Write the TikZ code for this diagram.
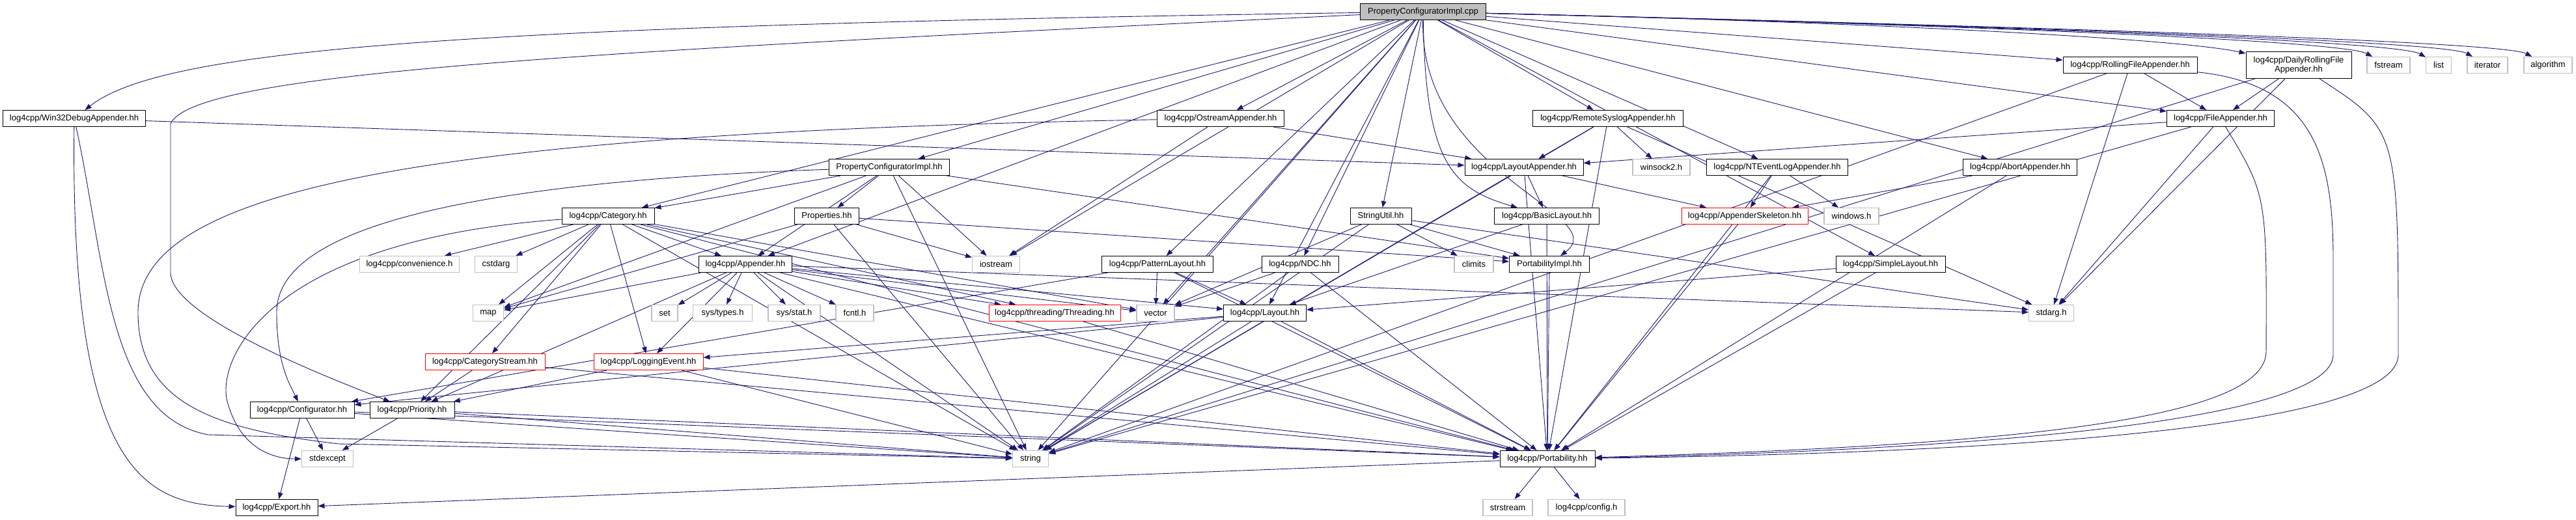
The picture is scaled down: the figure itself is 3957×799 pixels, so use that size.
\documentclass[tikz,border=0pt]{standalone}
\usepackage{fontspec}
\setmainfont{Liberation Sans}
\usetikzlibrary{arrows.meta,backgrounds}
\definecolor{edgeblue}{HTML}{191970}
\definecolor{sysgray}{HTML}{BFBFBF}
\definecolor{rootfill}{HTML}{BFBFBF}

\tikzset{
  box/.style={rectangle,draw,fill=white,inner sep=0pt,minimum height=25,line width=1pt,
    font=\fontsize{13}{14}\selectfont},
  hdr/.style={box,draw=black},
  sys/.style={box,draw=sysgray,line width=1.2pt},
  trunc/.style={box,draw=red},
  root/.style={box,draw=black,fill=rootfill},
  dep/.style={draw=edgeblue,line width=0.9pt,-{Triangle[length=10pt,width=7.5pt]}},
}

\begin{document}
\begin{tikzpicture}[x=1pt,y=1pt]
  \useasboundingbox (0,0) rectangle (3957,-799);

  % root file
  \node[root,minimum width=193] (cpp) at (2186,-18) {PropertyConfiguratorImpl.cpp};

  % first row of includes
  \node[hdr,minimum width=206] (rolling) at (3272,-100) {log4cpp/RollingFileAppender.hh};
  \node[hdr,minimum width=162,minimum height=41,align=center] (daily) at (3531,-100) {log4cpp/DailyRollingFile\\Appender.hh};
  \node[sys,minimum width=66] (fstream) at (3669,-100) {fstream};
  \node[sys,minimum width=39] (list) at (3746,-100) {list};
  \node[sys,minimum width=62] (iterator) at (3821,-100) {iterator};
  \node[sys,minimum width=74] (algorithm) at (3914,-100) {algorithm};

  % appenders
  \node[hdr,minimum width=219] (win32) at (114,-182) {log4cpp/Win32DebugAppender.hh};
  \node[hdr,minimum width=195] (ostream) at (1875,-182) {log4cpp/OstreamAppender.hh};
  \node[hdr,minimum width=231] (remote) at (2470,-182) {log4cpp/RemoteSyslogAppender.hh};
  \node[hdr,minimum width=165] (fileapp) at (3411,-182) {log4cpp/FileAppender.hh};

  \node[hdr,minimum width=185] (pcimplhh) at (1366,-257) {PropertyConfiguratorImpl.hh};
  \node[hdr,minimum width=182] (layoutapp) at (2341,-257) {log4cpp/LayoutAppender.hh};
  \node[sys,minimum width=88] (winsock) at (2552,-257) {winsock2.h};
  \node[hdr,minimum width=217] (ntevent) at (2730,-257) {log4cpp/NTEventLogAppender.hh};
  \node[hdr,minimum width=175] (abort) at (3103,-257) {log4cpp/AbortAppender.hh};

  \node[hdr,minimum width=142] (category) at (934,-332) {log4cpp/Category.hh};
  \node[hdr,minimum width=99] (properties) at (1270,-332) {Properties.hh};
  \node[hdr,minimum width=94] (stringutil) at (2121,-332) {StringUtil.hh};
  \node[hdr,minimum width=161] (basic) at (2376,-332) {log4cpp/BasicLayout.hh};
  \node[trunc,minimum width=194] (appskel) at (2680,-332) {log4cpp/AppenderSkeleton.hh};
  \node[sys,minimum width=84] (windows) at (2844,-332) {windows.h};

  \node[sys,minimum width=153] (convenience) at (629,-406) {log4cpp/convenience.h};
  \node[sys,minimum width=65] (cstdarg) at (762,-406) {cstdarg};
  \node[hdr,minimum width=143] (appender) at (1145,-406) {log4cpp/Appender.hh};
  \node[sys,minimum width=73] (iostream) at (1530,-406) {iostream};
  \node[hdr,minimum width=171] (pattern) at (1778,-406) {log4cpp/PatternLayout.hh};
  \node[hdr,minimum width=118] (ndc) at (1997,-406) {log4cpp/NDC.hh};
  \node[sys,minimum width=60] (climits) at (2264,-406) {climits};
  \node[hdr,minimum width=123] (portimpl) at (2380,-406) {PortabilityImpl.hh};
  \node[hdr,minimum width=168] (simple) at (2904,-406) {log4cpp/SimpleLayout.hh};

  \node[sys,minimum width=47] (map) at (750,-481) {map};
  \node[sys,minimum width=40] (set) at (1021,-481) {set};
  \node[sys,minimum width=91] (systypes) at (1110,-481) {sys/types.h};
  \node[sys,minimum width=80] (sysstat) at (1220,-481) {sys/stat.h};
  \node[sys,minimum width=58] (fcntl) at (1313,-481) {fcntl.h};
  \node[trunc,minimum width=202] (threading) at (1620,-481) {log4cpp/threading/Threading.hh};
  \node[sys,minimum width=58] (vector) at (1775,-481) {vector};
  \node[hdr,minimum width=127] (layout) at (1943,-481) {log4cpp/Layout.hh};
  \node[sys,minimum width=69] (stdarg) at (3151,-481) {stdarg.h};

  \node[trunc,minimum width=184] (catstream) at (745,-556) {log4cpp/CategoryStream.hh};
  \node[trunc,minimum width=168] (logevent) at (996,-556) {log4cpp/LoggingEvent.hh};

  \node[hdr,minimum width=160] (configurator) at (464,-630) {log4cpp/Configurator.hh};
  \node[hdr,minimum width=130] (priority) at (633,-630) {log4cpp/Priority.hh};

  \node[sys,minimum width=79] (stdexcept) at (503,-705) {stdexcept};
  \node[sys,minimum width=55] (string) at (1583,-705) {string};
  \node[hdr,minimum width=146] (portability) at (2377,-705) {log4cpp/Portability.hh};

  \node[hdr,minimum width=126] (export) at (425,-780) {log4cpp/Export.hh};
  \node[sys,minimum width=76] (strstream) at (2316,-780) {strstream};
  \node[sys,minimum width=118] (config) at (2437,-780) {log4cpp/config.h};

  \begin{pgfonlayer}{background}
  % straight dependencies
  \foreach \src/\dst in {cpp/ostream, cpp/pcimplhh, cpp/category, cpp/appender, cpp/iostream,
      cpp/string, cpp/vector, cpp/fileapp, cpp/rolling, cpp/abort, cpp/ntevent, cpp/remote,
      cpp/layout, cpp/simple, cpp/pattern, cpp/ndc, cpp/stringutil,
      win32/layoutapp, ostream/layoutapp, ostream/iostream,
      remote/layoutapp, remote/winsock, remote/string, remote/stdarg, remote/portability,
      layoutapp/basic, layoutapp/appskel, layoutapp/string, layoutapp/portability,
      basic/layout, basic/portability,
      ntevent/appskel, ntevent/windows, ntevent/portability,
      abort/appskel, abort/portability,
      fileapp/layoutapp, fileapp/string, fileapp/stdarg,
      rolling/fileapp, rolling/string, rolling/stdarg,
      daily/fileapp, daily/string, daily/stdarg,
      appskel/portability, simple/layout, simple/portability,
      pattern/layout, pattern/vector, pattern/configurator, pattern/portability,
      ndc/vector, ndc/string, ndc/portability,
      stringutil/portimpl, stringutil/climits, stringutil/vector, stringutil/string, stringutil/stdarg,
      portimpl/portability,
      pcimplhh/category, pcimplhh/properties, pcimplhh/appender, pcimplhh/iostream,
      pcimplhh/string, pcimplhh/map, pcimplhh/portimpl,
      properties/map, properties/iostream, properties/string, properties/portimpl,
      category/convenience, category/cstdarg, category/appender, category/map,
      category/catstream, category/logevent, category/priority, category/threading,
      category/vector, category/portability, category/string,
      appender/map, appender/set, appender/systypes, appender/sysstat, appender/fcntl,
      appender/threading, appender/vector, appender/layout, appender/stdarg, appender/string,
      appender/portability, appender/logevent, appender/priority,
      layout/configurator, layout/logevent, layout/string, layout/portability,
      catstream/priority, catstream/portability,
      logevent/priority, logevent/string, logevent/portability,
      threading/portability,
      configurator/export, configurator/stdexcept, configurator/string, configurator/portability,
      priority/stdexcept, priority/string, priority/portability,
      portability/strstream, portability/config, portability/export}
    \draw[dep] (\src) -- (\dst);

  % routed dependencies
  \draw[dep] (cpp) .. controls (2900,-35) and (3350,-60) .. (daily);
  \foreach \dst/\xc in {fstream/3637, list/3723, iterator/3794, algorithm/3882}
    \draw[dep] (cpp) .. controls (3000,-38) and ({\xc-40},-62) .. (\dst);
  \draw[dep] (cpp) .. controls (700,-40) and (250,-75) .. (win32);
  \draw[dep] (cpp) .. controls (900,-80) and (300,-110) .. (262,-190) -- (262,-420)
    .. controls (265,-480) and (450,-560) .. (priority);
  \draw[dep] (cpp) .. controls (2190,-250) and (2230,-290) .. (basic);
  \draw[dep] (cpp) .. controls (2180,-270) and (2480,-330) .. (portimpl);
  \draw[dep] (win32) .. controls (108,-720) and (220,-775) .. (export);
  \draw[dep] (win32) .. controls (162,-400) and (165,-640) .. (320,-668) -- (string);
  \draw[dep] (ostream) .. controls (600,-205) and (212,-300) .. (212,-480)
    .. controls (212,-620) and (330,-660) .. (520,-682) -- (string);
  \draw[dep] (pcimplhh) .. controls (560,-285) and (425,-390) .. (425,-480)
    .. controls (425,-560) and (445,-590) .. (configurator);
  \draw[dep] (category) .. controls (400,-370) and (330,-560) .. (350,-620)
    .. controls (370,-690) and (420,-705) .. (stdexcept);
  \draw[dep] (fileapp) .. controls (3482,-300) .. (3481,-540)
    .. controls (3481,-650) and (3050,-685) .. (portability);
  \draw[dep] (rolling) .. controls (3560,-130) and (3584,-250) .. (3584,-400) -- (3584,-545)
    .. controls (3584,-640) and (3100,-690) .. (portability);
  \draw[dep] (daily) .. controls (3684,-200) .. (3684,-545)
    .. controls (3684,-650) and (3150,-695) .. (portability);
  \end{pgfonlayer}
\end{tikzpicture}
\end{document}
